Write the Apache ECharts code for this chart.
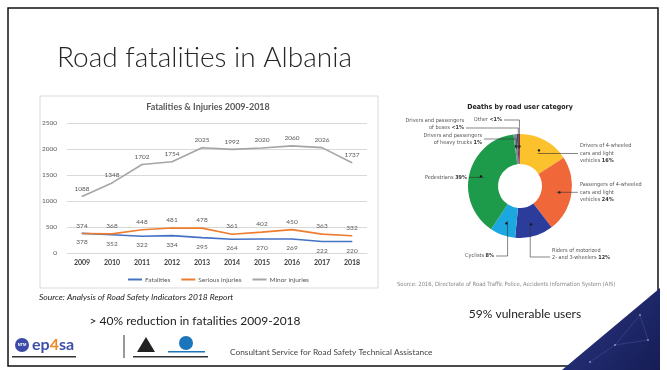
<!DOCTYPE html>
<html><head><meta charset="utf-8">
<script src="https://cdn.jsdelivr.net/npm/echarts@6/dist/echarts.min.js"></script>
<style>html,body{margin:0;padding:0;background:#fff}#c{width:667px;height:370px}</style>
</head><body><div id="c"></div>
<script>
// ---- data ----
const years = ['2009','2010','2011','2012','2013','2014','2015','2016','2017','2018'];
const fatalities = [378,352,322,334,295,264,270,269,222,220];
const seriousInjuries = [374,368,448,481,478,361,402,450,363,332];
const minorInjuries = [1088,1348,1702,1754,2025,1992,2020,2060,2026,1737];
const yMin = 0, yMax = 2500, yStep = 500;

const pieNames = ['Drivers of 4-wheeled\ncars and light\nvehicles','Passengers of 4-wheeled\ncars and light\nvehicles','Riders of motorized\n2- and 3-wheelers','Cyclists','Pedestrians','Drivers and passengers\nof heavy trucks','Drivers and passengers\nof buses','Other'];
const piePctText = ['16%','24%','12%','8%','39%','1%','<1%','<1%'];
const pieValues = [16,24,12,8,39,1,0.5,0.5];

// ---- styles / layout ----
const pieColors = ['#FBC22D','#F0683A','#2C3C9B','#1DA7E0','#1E9A4B','#7E8C90','#34488C','#C23A2E'];
const pieCenter = [520,186];
const labelSpots = [
  {side:'right', x:580, lineX:578, mode:'h'},
  {side:'right', x:580, lineX:578, mode:'h'},
  {side:'right', x:552, y:257, ly:254, lineX:550, mode:'v'},
  {side:'left',  x:494, y:256, ly:256, lineX:496, mode:'v'},
  {side:'left',  x:467, lineX:469, mode:'h'},
  {side:'left',  x:482, y:139, ly:139, lineX:484, mode:'v'},
  {side:'left',  x:464, y:128, ly:124, lineX:466, mode:'v'},
  {side:'left',  x:502, y:120, ly:120, lineX:504, mode:'v'}
];
const F = 'Lato, "Open Sans", sans-serif';
const FC = '"DejaVu Sans Condensed", "Liberation Sans", sans-serif';

const chart = echarts.init(document.getElementById('c'), null, {renderer:'canvas'});

const pieData = pieValues.map((v,i)=>({value:v, name:pieNames[i], itemStyle:{color:pieColors[i]}}));

const option = {
  backgroundColor:'#fff',
  animation:false,
  textStyle:{fontFamily:F},
  grid:{left:67, right:300, top:123, bottom:117},
  xAxis:{type:'category', data:years, boundaryGap:true,
    axisLine:{lineStyle:{color:'#d9d9d9'}}, axisTick:{show:false},
    axisLabel:{fontSize:7, fontWeight:'bold', color:'#404040', margin:6, fontFamily:F}},
  yAxis:{type:'value', min:yMin, max:yMax, interval:yStep,
    axisLine:{show:false}, axisTick:{show:false},
    splitLine:{lineStyle:{color:'#d9d9d9', width:1}},
    axisLabel:{fontSize:6.5, color:'#595959', margin:10, fontFamily:F, formatter:(v)=>String(v)}},
  legend:{left:123, top:271, itemWidth:14, itemHeight:2, itemGap:11, icon:'rect',
    textStyle:{fontSize:6.5, color:'#595959', fontFamily:F, padding:[0,0,0,-2]},
    data:['Fatalities','Serious injuries','Minor injuries']},
  series:[
    {name:'Fatalities', type:'line', data:fatalities, symbol:'circle', symbolSize:1,
     lineStyle:{width:1.6, color:'#4472C4'}, itemStyle:{color:'#4472C4'},
     label:{show:true, position:'bottom', distance:5, fontSize:6.5, color:'#595959', fontFamily:F}},
    {name:'Serious injuries', type:'line', data:seriousInjuries, symbol:'circle', symbolSize:1,
     lineStyle:{width:1.6, color:'#ED7D31'}, itemStyle:{color:'#ED7D31'},
     label:{show:true, position:'top', distance:4, fontSize:6.5, color:'#595959', fontFamily:F}},
    {name:'Minor injuries', type:'line', data:minorInjuries, symbol:'circle', symbolSize:1,
     lineStyle:{width:1.6, color:'#A5A5A5'}, itemStyle:{color:'#A5A5A5'},
     label:{show:true, position:'top', distance:4, fontSize:6.5, color:'#595959', fontFamily:F}},
    {name:'deaths', type:'pie', center:pieCenter, radius:[22,52], startAngle:90, clockwise:true,
     silent:true, avoidLabelOverlap:false, data:pieData,
     label:{show:true, position:'inside', formatter:'\u25CF', fontSize:5, color:'#111'},
     labelLine:{show:false}},
    {name:'deathLabels', type:'pie', center:pieCenter, radius:[0,37], startAngle:90, clockwise:true,
     silent:true, avoidLabelOverlap:false, z:5,
     data:pieValues.map((v,i)=>({value:v, name:pieNames[i], itemStyle:{color:'rgba(0,0,0,0)'}})),
     label:{show:true, position:'outer', alignTo:'none', fontSize:5.5, lineHeight:7.5, color:'#555', fontFamily:FC,
       formatter:(p)=>p.name+' {b|'+piePctText[p.dataIndex]+'}',
       rich:{b:{fontWeight:'bold', fontSize:5.5, color:'#333', fontFamily:FC}}},
     labelLine:{show:true, length:5, length2:5, smooth:false, lineStyle:{color:'#333', width:0.6}},
     labelLayout:function(params){
       const s = labelSpots[params.dataIndex];
       const p0 = params.labelLinePoints ? params.labelLinePoints[0] : [pieCenter[0], pieCenter[1]];
       let pts, ly;
       if (s.mode === 'h') {
         ly = p0[1];
         pts = [p0, [(p0[0]+s.lineX)/2, ly], [s.lineX, ly]];
       } else {
         ly = s.ly;
         pts = [p0, [p0[0], s.y], [s.lineX, s.y]];
       }
       return {x:s.x, y:ly, align: s.side==='right'?'left':'right', verticalAlign:'middle', labelLinePoints:pts};
     }}
  ],
  graphic:[
    {type:'rect', z:-10, shape:{x:40,y:96,width:338,height:192}, style:{fill:'#fff', stroke:'#d9d9d9', lineWidth:1}},
    {type:'text', x:57, y:58, style:{text:'Road fatalities in Albania', font:'300 28px '+F, fill:'#262626', verticalAlign:'middle'}},
    {type:'text', x:208, y:107, style:{text:'Fatalities & Injuries 2009-2018', font:'bold 9px '+F, fill:'#595959', align:'center', verticalAlign:'middle'}},
    {type:'text', x:39, y:297, style:{text:'Source: Analysis of Road Safety Indicators 2018 Report', font:'italic 8.5px '+F, fill:'#222', verticalAlign:'middle'}},
    {type:'text', x:520, y:107, style:{text:'Deaths by road user category', font:'bold 7px '+FC, fill:'#222', align:'center', verticalAlign:'middle'}},
    {type:'text', x:397, y:284, style:{text:'Source: 2016, Directorate of Road Traffic Police, Accidents Information System (AIS)', font:'5.8px '+FC, fill:'#888', verticalAlign:'middle'}},
    {type:'text', x:195, y:321, style:{text:'> 40% reduction in fatalities 2009-2018', font:'12px '+F, fill:'#222', align:'center', verticalAlign:'middle'}},
    {type:'text', x:525, y:314, style:{text:'59% vulnerable users', font:'12px '+F, fill:'#222', align:'center', verticalAlign:'middle'}},
    // logos
    {type:'circle', shape:{cx:22, cy:345, r:7}, style:{fill:'#3a4aa6'}},
    {type:'text', x:22, y:345, style:{text:'NTM', font:'bold 4px sans-serif', fill:'#fff', align:'center', verticalAlign:'middle'}},
    {type:'text', x:32, y:345, style:{text:'{a|ep}{b|4}{a|sa}', verticalAlign:'middle', rich:{a:{font:'bold 16px '+F, fill:'#3d4fa8'}, b:{font:'bold 16px '+F, fill:'#f08a24'}}}},
    {type:'rect', shape:{x:12,y:356,width:64,height:1.5}, style:{fill:'#333'}},
    {type:'line', shape:{x1:124,y1:335,x2:124,y2:358}, style:{stroke:'#333', lineWidth:1}},
    {type:'polygon', shape:{points:[[137,352],[146,337],[155,352]]}, style:{fill:'#222'}},
    {type:'rect', shape:{x:133,y:356,width:75,height:1.5}, style:{fill:'#333'}},
    {type:'circle', shape:{cx:186, cy:343, r:7}, style:{fill:'#1b75bb'}},
    {type:'rect', shape:{x:168,y:351,width:37,height:1.5}, style:{fill:'#1b75bb'}},
    {type:'text', x:230, y:352, style:{text:'Consultant Service for Road Safety Technical Assistance', font:'8.3px '+F, fill:'#444', verticalAlign:'middle'}},
    // slide border
    {type:'rect', z:50, shape:{x:8,y:8,width:650,height:358}, style:{fill:'none', stroke:'#111', lineWidth:1.5}},
    // corner decoration
    {type:'polygon', z:60, shape:{points:[[562,370],[660,288],[660,370]]},
     style:{fill:new echarts.graphic.LinearGradient(0,0,1,1,[{offset:0,color:'#2a3785'},{offset:1,color:'#161d55'}])}},
    {type:'circle', z:61, shape:{cx:640, cy:315, r:0.8}, style:{fill:'#cfd6ff'}},
    {type:'circle', z:61, shape:{cx:615, cy:345, r:0.8}, style:{fill:'#cfd6ff'}},
    {type:'circle', z:61, shape:{cx:648, cy:340, r:0.8}, style:{fill:'#cfd6ff'}},
    {type:'circle', z:61, shape:{cx:590, cy:362, r:0.8}, style:{fill:'#cfd6ff'}},
    {type:'polyline', z:61, shape:{points:[[615,345],[640,315],[648,340],[615,345],[590,362]]}, style:{stroke:'rgba(150,170,255,0.35)', lineWidth:0.5, fill:null}}
  ]
};
chart.setOption(option);
</script></body></html>
